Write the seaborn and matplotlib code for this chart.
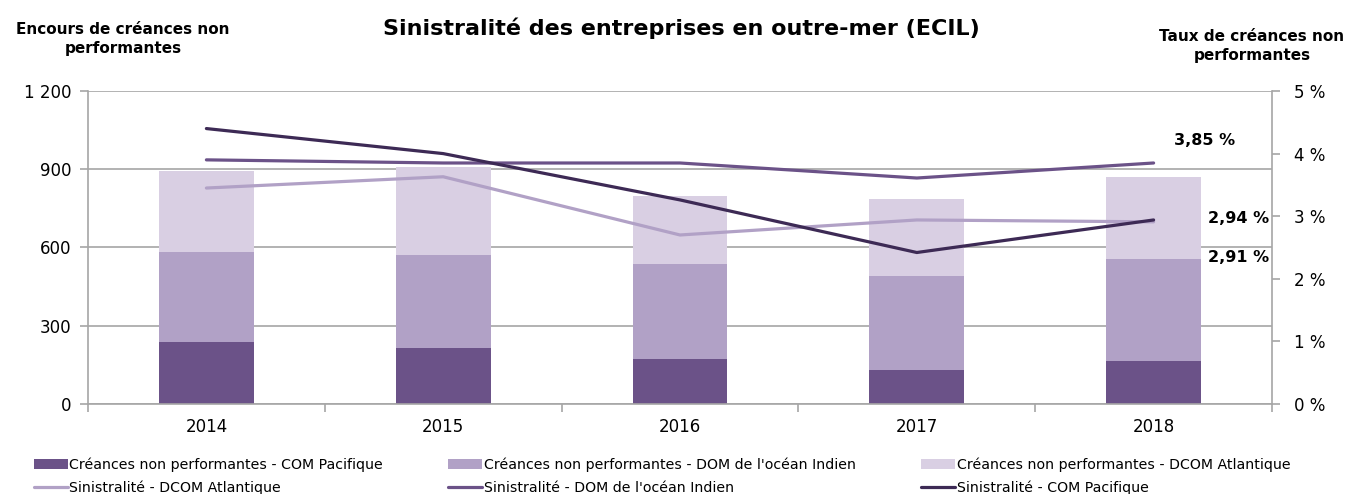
import numpy as np
import pandas as pd
import seaborn as sns
from matplotlib import pyplot as plt
from matplotlib.ticker import FuncFormatter, MultipleLocator

# data
years = ['2014', '2015', '2016', '2017', '2018']
enc_pacifique = [238, 214, 172, 130, 165]
enc_ocean_indien = [345, 357, 364, 359, 389]
enc_atlantique = [309, 336, 262, 298, 317]

sin_atlantique = [3.45, 3.63, 2.70, 2.94, 2.91]
sin_ocean_indien = [3.90, 3.85, 3.85, 3.61, 3.85]
sin_pacifique = [4.40, 4.00, 3.26, 2.42, 2.94]

c_dark = '#6b5288'
c_mid = '#b1a1c6'
c_light = '#d9cfe3'
c_line_dark = '#3d2a55'

sns.set_style('white')
plt.rcParams['font.family'] = ['DejaVu Sans']
plt.rcParams['text.color'] = 'black'
plt.rcParams['xtick.color'] = 'black'
plt.rcParams['ytick.color'] = 'black'

df = pd.DataFrame({'year': years, 'pac': enc_pacifique, 'ind': enc_ocean_indien, 'atl': enc_atlantique})
df['s1'] = df['pac']
df['s2'] = df['pac'] + df['ind']
df['s3'] = df['s2'] + df['atl']

fig, ax = plt.subplots(figsize=(13.54, 4.94), dpi=100)
fig.subplots_adjust(left=88/1354, right=1272/1354, top=1-91/494, bottom=1-404/494)

# stacked bars: draw cumulative totals from the top down
sns.barplot(data=df, x='year', y='s3', color=c_light, width=0.4, saturation=1, ax=ax, linewidth=0,
            label='Créances non performantes - DCOM Atlantique', zorder=2)
sns.barplot(data=df, x='year', y='s2', color=c_mid, width=0.4, saturation=1, ax=ax, linewidth=0,
            label="Créances non performantes - DOM de l'océan Indien", zorder=2)
sns.barplot(data=df, x='year', y='s1', color=c_dark, width=0.4, saturation=1, ax=ax, linewidth=0,
            label='Créances non performantes - COM Pacifique', zorder=2)

ax.set_ylim(0, 1200)
ax.set_xlim(-0.5, len(years) - 0.5)
ax.yaxis.set_major_locator(MultipleLocator(300))
ax.yaxis.set_major_formatter(FuncFormatter(lambda v, p: f'{int(v):,}'.replace(',', ' ')))
ax.grid(axis='y', color='#a6a6a6', linewidth=1.2, zorder=0)
ax.set_axisbelow(True)
ax.set_xlabel('')
ax.set_ylabel('')
ax.tick_params(axis='x', which='major', length=0, labelsize=12, pad=10)
ax.set_xticks(np.arange(-0.5, len(years)), minor=True)
ax.tick_params(axis='x', which='minor', length=6, width=1.2, color='#a6a6a6', direction='out', bottom=True)
ax.tick_params(axis='y', length=6, width=1.2, color='#a6a6a6', labelsize=12, direction='out', left=True, pad=6)
for s in ['left', 'bottom', 'right']:
    ax.spines[s].set_color('#a6a6a6')
    ax.spines[s].set_linewidth(1.2)
ax.spines['top'].set_visible(False)

# lines on the secondary axis
ax2 = ax.twinx()
xpos = np.arange(len(years))
sns.lineplot(x=xpos, y=sin_atlantique, color=c_mid, linewidth=2.3, ax=ax2,
             label='Sinistralité - DCOM Atlantique')
sns.lineplot(x=xpos, y=sin_ocean_indien, color=c_dark, linewidth=2.3, ax=ax2,
             label="Sinistralité - DOM de l'océan Indien")
sns.lineplot(x=xpos, y=sin_pacifique, color=c_line_dark, linewidth=2.3, ax=ax2,
             label='Sinistralité - COM Pacifique')
ax2.set_ylim(0, 5)
ax2.yaxis.set_major_locator(MultipleLocator(1))
ax2.yaxis.set_major_formatter(FuncFormatter(lambda v, p: f'{int(v)} %'))
ax2.tick_params(axis='y', length=6, width=1.2, color='#a6a6a6', labelsize=12, direction='out', right=True, pad=10)
for s in ax2.spines.values():
    s.set_visible(False)
ax2.set_xlim(-0.5, len(years) - 0.5)

def fr(v):
    return f'{v:.2f}'.replace('.', ',') + ' %'

last = len(years) - 1
ax2.annotate(fr(sin_ocean_indien[last]), (last, sin_ocean_indien[last]), xytext=(37, 16),
             textcoords='offset points', ha='center', va='center', fontsize=11.5, fontweight='bold')
ax2.annotate(fr(sin_pacifique[last]), (last, sin_pacifique[last]), xytext=(61, 1),
             textcoords='offset points', ha='center', va='center', fontsize=11.5, fontweight='bold')
ax2.annotate(fr(sin_atlantique[last]), (last, sin_atlantique[last]), xytext=(61, -26),
             textcoords='offset points', ha='center', va='center', fontsize=11.5, fontweight='bold')

# legend below: bars on first row, lines on second
h1, l1 = ax.get_legend_handles_labels()
h2, l2 = ax2.get_legend_handles_labels()
ax2.get_legend().remove()
if ax.get_legend():
    ax.get_legend().remove()
bars_h = [h1[2], h1[1], h1[0]]
bars_l = [l1[2], l1[1], l1[0]]
handles = [bars_h[0], h2[0], bars_h[1], h2[1], bars_h[2], h2[2]]
labels = [bars_l[0], l2[0], bars_l[1], l2[1], bars_l[2], l2[2]]
fig.legend(handles, labels, ncol=3, loc='lower left', mode='expand',
           bbox_to_anchor=(28/1354, -0.014, 1268/1354, 0.1),
           frameon=False, fontsize=10.2, handlelength=2.4, handletextpad=0.1,
           labelspacing=0.6, borderaxespad=0.0)

fig.text(681/1354, 1-28/494, 'Sinistralité des entreprises en outre-mer (ECIL)',
         ha='center', va='center', fontsize=16, fontweight='bold')
fig.text(123/1354, 1-39/494, 'Encours de créances non\nperformantes', ha='center', va='center',
         fontsize=11, fontweight='bold', linespacing=1.3)
fig.text(1252/1354, 1-46/494, 'Taux de créances non\nperformantes', ha='center', va='center',
         fontsize=11, fontweight='bold', linespacing=1.3)

fig.savefig('out.png', dpi=100)
